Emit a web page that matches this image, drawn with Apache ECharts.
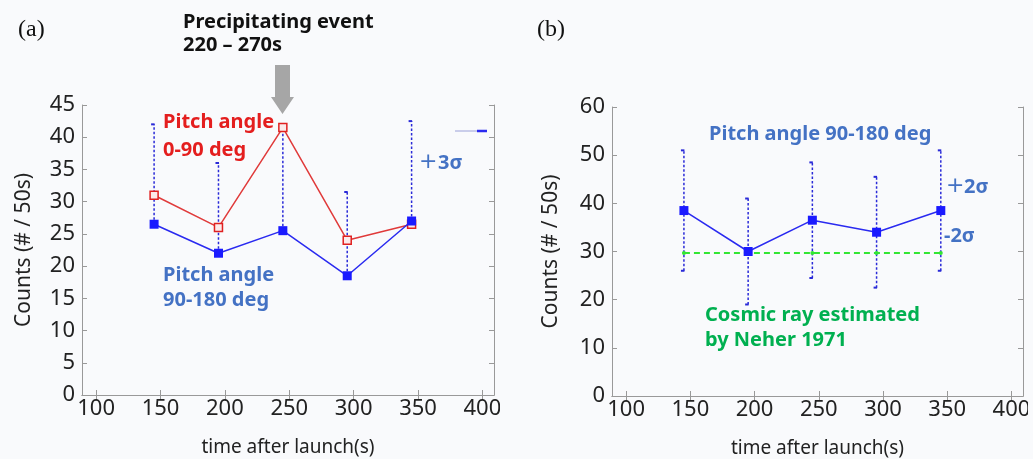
<!DOCTYPE html>
<html><head><meta charset="utf-8">
<script src="https://cdn.jsdelivr.net/npm/echarts@6/dist/echarts.min.js"></script>
<style>html,body{margin:0;padding:0;background:#f9fafc}#c{width:1033px;height:459px}</style>
</head><body><div id="c"></div>
<script>
// ---- data ----
const times = [145, 195, 245, 295, 345];
const xTicks = [100, 150, 200, 250, 300, 350, 400];
// panel (a)
const pitch0_90 = [31, 26, 41.5, 24, 26.5];
const pitch90_180a = [26.5, 22, 25.5, 18.5, 27];
const plus3sigma = [42, 36, 41, 31.5, 42.5];
// panel (b)
const pitch90_180b = [38.5, 30, 36.5, 34, 38.5];
const plus2sigma = [51, 41, 48.5, 45.5, 51];
const minus2sigma = [26, 19, 24.5, 22.5, 26];
const cosmicRay = [29.7, 29.7, 29.7, 29.7, 29.7];

const FONT = 'Noto Sans';
const BLUE_TXT = '#4472c4';
const BAR_COL = '#2a2ad8';

function pairs(xs, ys){ return xs.map((x,i)=>[x, ys[i]]); }
function triples(xs, lo, hi){ return xs.map((x,i)=>[x, lo[i], hi[i]]); }

function errRender(params, api){
  const x = api.value(0), lo = api.value(1), hi = api.value(2);
  const p1 = api.coord([x, lo]), p2 = api.coord([x, hi]);
  const st = {stroke: BAR_COL, lineWidth: 1.5, lineDash: [2.5, 2]};
  return {type:'group', children:[
    {type:'line', shape:{x1:p1[0], y1:p1[1], x2:p2[0], y2:p2[1]}, style: st},
    {type:'line', shape:{x1:p2[0]-3, y1:p2[1], x2:p2[0]+0.5, y2:p2[1]}, style:{stroke:BAR_COL, lineWidth:2}},
    {type:'line', shape:{x1:p1[0]-3, y1:p1[1], x2:p1[0]+0.5, y2:p1[1]}, style:{stroke:BAR_COL, lineWidth:2, opacity: params.seriesName==='errB'?1:0}}
  ]};
}

const axisLab = {fontFamily: FONT, fontSize: 22, color: '#222'};
function xAx(gi){
  return [{
    type:'value', gridIndex: gi, min: 89, max: 409,
    axisLine:{show:true, lineStyle:{color:'#999'}},
    axisTick:{show:true, inside:true, length:5, customValues: xTicks, lineStyle:{color:'#999'}},
    axisLabel:Object.assign({margin:3, customValues: xTicks}, axisLab),
    splitLine:{show:false},
    name:'time after launch(s)', nameLocation:'middle', nameGap:43,
    nameTextStyle:{fontFamily:FONT, fontSize:19, color:'#222'}
  },{
    type:'value', gridIndex: gi, min: 89, max: 409, position:'top',
    axisLine:{show:true, lineStyle:{color:'#999'}},
    axisTick:{show:true, inside:true, length:5, customValues: xTicks, lineStyle:{color:'#999'}},
    axisLabel:{show:false}, splitLine:{show:false}
  }];
}
function yAx(gi, max, itv, gap){
  return [{
    type:'value', gridIndex: gi, min:0, max:max, interval:itv,
    axisLine:{show:true, lineStyle:{color:'#999'}},
    axisTick:{show:true, inside:true, length:5, lineStyle:{color:'#999'}},
    axisLabel:Object.assign({margin:7}, axisLab),
    splitLine:{show:false},
    name:'Counts (# / 50s)', nameLocation:'middle', nameGap:gap,
    nameTextStyle:{fontFamily:FONT, fontSize:21, color:'#222'}
  },{
    type:'value', gridIndex: gi, min:0, max:max, interval:itv, position:'right',
    axisLine:{show:true, lineStyle:{color:'#999'}},
    axisTick:{show:true, inside:true, length:5, lineStyle:{color:'#999'}},
    axisLabel:{show:false}, splitLine:{show:false}
  }];
}

function txt(x, y, s, color, size, extra){
  return {type:'text', x:x, y:y, z:100, style:Object.assign({text:s, fill:color, font:'bold '+size+'px "'+FONT+'"', textVerticalAlign:'middle'}, extra||{})};
}

const chart = echarts.init(document.getElementById('c'));
chart.setOption({
  backgroundColor:'#f9fafc',
  animation:false,
  grid:[
    {left:82, top:105, width:412, height:290, outerBoundsMode:'none', containLabel:false},
    {left:612, top:107, width:411, height:289, outerBoundsMode:'none', containLabel:false}
  ],
  xAxis:[...xAx(0), ...xAx(1)],
  yAxis:[...yAx(0, 45, 5, 47), ...yAx(1, 60, 10, 50)],
  series:[
    {name:'errA', type:'custom', xAxisIndex:0, yAxisIndex:0, renderItem: errRender,
     encode:{x:0, y:[1,2]}, data: triples(times, pitch90_180a, plus3sigma), z:1},
    {name:'Pitch angle 0-90 deg', type:'line', xAxisIndex:0, yAxisIndex:0,
     data: pairs(times, pitch0_90), symbol:'rect', symbolSize:8,
     lineStyle:{color:'#e03a3a', width:1.5}, itemStyle:{color:'#fbeaea', borderColor:'#e02020', borderWidth:1.5}, z:3},
    {name:'Pitch angle 90-180 deg (a)', type:'line', xAxisIndex:0, yAxisIndex:0,
     data: pairs(times, pitch90_180a), symbol:'rect', symbolSize:9,
     lineStyle:{color:'#2a2af0', width:1.5}, itemStyle:{color:'#1a1aff'}, z:4},
    {name:'errB', type:'custom', xAxisIndex:2, yAxisIndex:2, renderItem: errRender,
     encode:{x:0, y:[1,2]}, data: triples(times, minus2sigma, plus2sigma), z:1},
    {name:'Cosmic ray', type:'line', xAxisIndex:2, yAxisIndex:2,
     data: pairs(times, cosmicRay), symbol:'circle', symbolSize:4,
     lineStyle:{color:'#33e633', width:2, type:[6,4]}, itemStyle:{color:'#33e633'}, z:2},
    {name:'Pitch angle 90-180 deg (b)', type:'line', xAxisIndex:2, yAxisIndex:2,
     data: pairs(times, pitch90_180b), symbol:'rect', symbolSize:9,
     lineStyle:{color:'#2a2af0', width:1.5}, itemStyle:{color:'#1a1aff'}, z:4}
  ],
  graphic:[
    {type:'text', x:18, y:30, style:{text:'(a)', fill:'#111', font:'24px "Liberation Serif"', textVerticalAlign:'middle'}},
    {type:'text', x:537, y:30, style:{text:'(b)', fill:'#111', font:'24px "Liberation Serif"', textVerticalAlign:'middle'}},
    txt(183, 22, 'Precipitating event', '#111', 20),
    txt(183, 45, '220 \u2013 270s', '#111', 20),
    {type:'polygon', z:50, shape:{points:[[275,65],[290,65],[290,97],[294,97],[282.5,114],[271,97],[275,97]]}, style:{fill:'#a6a6a6'}},
    txt(163, 122, 'Pitch angle', '#e41e1e', 20),
    txt(163, 150, '0-90 deg', '#e41e1e', 20),
    txt(163, 275, 'Pitch angle', BLUE_TXT, 20),
    txt(163, 300, '90-180 deg', BLUE_TXT, 20),
    txt(419, 162, '+', BLUE_TXT, 22, {font:'22px "DejaVu Sans"'}),
    txt(438, 163, '3\u03c3', BLUE_TXT, 20),
    {type:'line', z:50, shape:{x1:455, y1:131, x2:477, y2:131}, style:{stroke:'#9aa0d8', lineWidth:1}},
    {type:'line', z:50, shape:{x1:477, y1:131, x2:487, y2:131}, style:{stroke:'#2a2af0', lineWidth:2.5}},
    txt(709, 134, 'Pitch angle 90-180 deg', BLUE_TXT, 20),
    txt(946, 186, '+', BLUE_TXT, 22, {font:'22px "DejaVu Sans"'}),
    txt(964, 187, '2\u03c3', BLUE_TXT, 20),
    txt(944, 236, '-2\u03c3', BLUE_TXT, 20),
    txt(705, 315, 'Cosmic ray estimated', '#00b050', 20),
    txt(705, 340, 'by Neher 1971', '#00b050', 20),
    {type:'rect', z:200, shape:{x:500, y:397, width:18, height:25}, style:{fill:'#f9fafc'}},
    {type:'rect', z:200, shape:{x:1028, y:397, width:5, height:25}, style:{fill:'#f9fafc'}}
  ]
});
</script></body></html>
